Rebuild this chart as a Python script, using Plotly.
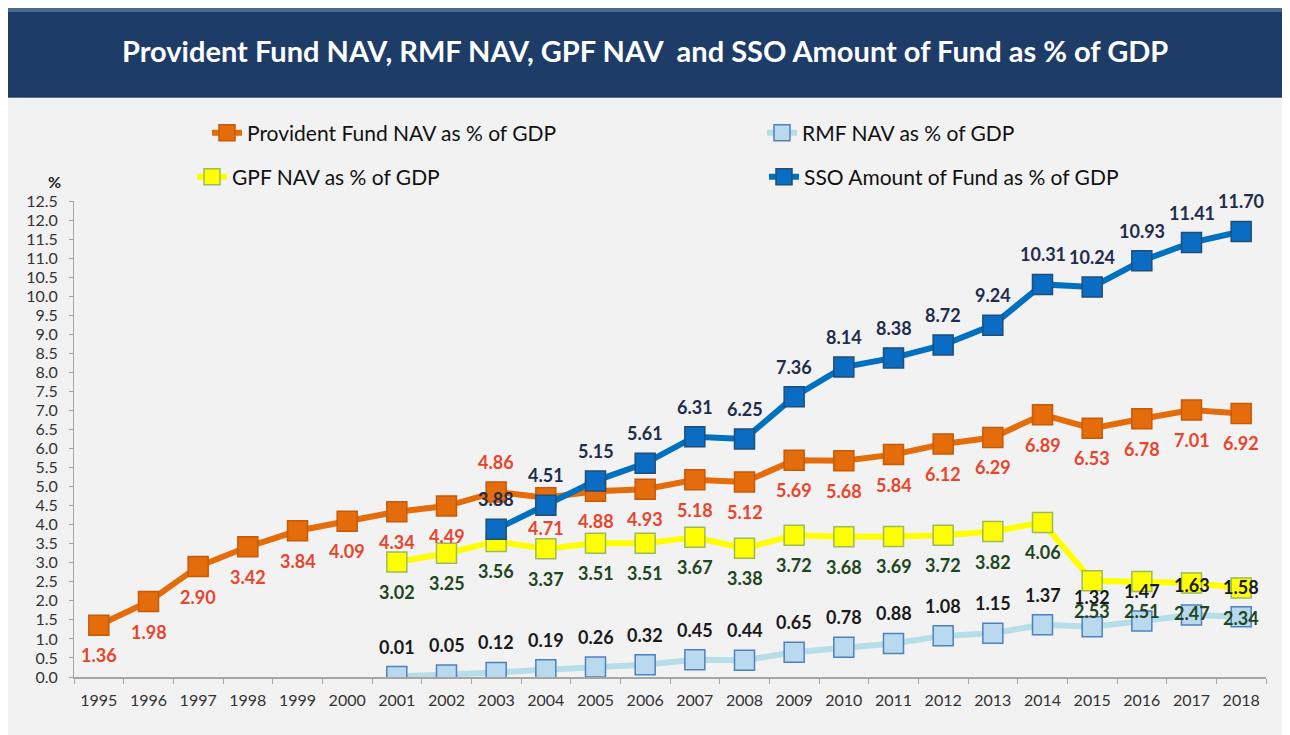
import plotly.graph_objects as go

years = [str(y) for y in range(1995, 2019)]

provident = [1.36, 1.98, 2.90, 3.42, 3.84, 4.09, 4.34, 4.49, 4.86, 4.71, 4.88, 4.93,
             5.18, 5.12, 5.69, 5.68, 5.84, 6.12, 6.29, 6.89, 6.53, 6.78, 7.01, 6.92]
rmf_years = years[6:]
rmf = [0.01, 0.05, 0.12, 0.19, 0.26, 0.32, 0.45, 0.44, 0.65, 0.78, 0.88, 1.08,
       1.15, 1.37, 1.32, 1.47, 1.63, 1.58]
gpf_years = years[6:]
gpf = [3.02, 3.25, 3.56, 3.37, 3.51, 3.51, 3.67, 3.38, 3.72, 3.68, 3.69, 3.72,
       3.82, 4.06, 2.53, 2.51, 2.47, 2.34]
sso_years = years[8:]
sso = [3.88, 4.51, 5.15, 5.61, 6.31, 6.25, 7.36, 8.14, 8.38, 8.72, 9.24, 10.31,
       10.24, 10.93, 11.41, 11.70]

# label side per point: 1 above, -1 below
provident_side = [-1] * 24
provident_side[8] = 1
rmf_side = [1] * 18
gpf_side = [-1] * 18
sso_side = [1] * 16

FONT = "Lato"
OFF = 8  # page body margin
W, H = 1290 - OFF, 735 - OFF
L, R, T, B = 74 - OFF, 24, 201 - OFF, 58
PW, PH = W - L - R, H - T - B


def px_x(p):
    return (p - OFF - L) / PW


def px_y(p):
    return (H - B - (p - OFF)) / PH


series = [
    dict(name="RMF NAV as % of GDP", x=rmf_years, y=rmf, side=rmf_side,
         line="#b7dee8", fill="#b9d9ee", edge="#4f81bd", txt="#1a1a1a",
         legend="legend2", lx=762, ly=133),
    dict(name="GPF NAV as % of GDP", x=gpf_years, y=gpf, side=gpf_side,
         line="#ffff00", fill="#ffff00", edge="#9bbb59", txt="#1e4620",
         legend="legend3", lx=192, ly=177),
    dict(name="Provident Fund NAV as % of GDP", x=years, y=provident,
         side=provident_side, line="#e46c0a", fill="#e46c0a", edge="#c55a0a",
         txt="#e8452c", legend="legend", lx=207, ly=133),
    dict(name="SSO Amount of Fund as % of GDP", x=sso_years, y=sso, side=sso_side,
         line="#0070c0", fill="#0a6cc2", edge="#1f4e79", txt="#1f2d4d",
         legend="legend4", lx=764, ly=177),
]

fig = go.Figure()
annotations = []
legends = {}
for s in series:
    fig.add_trace(go.Scatter(
        x=s["x"], y=s["y"], name=s["name"], mode="lines+markers",
        line=dict(color=s["line"], width=6),
        marker=dict(symbol="square", size=20, color=s["fill"],
                    line=dict(color=s["edge"], width=1.5)),
        legend=s["legend"], hoverinfo="x+y+name"))
    for xv, yv, sd in zip(s["x"], s["y"], s["side"]):
        annotations.append(dict(
            x=years.index(xv), y=yv, text=f"{yv:.2f}", showarrow=False,
            yshift=30 * sd,
            font=dict(family=FONT, size=18, color=s["txt"], weight="bold")))
    legends[s["legend"]] = dict(
        x=px_x(s["lx"]), y=px_y(s["ly"]), xanchor="left", yanchor="middle",
        bgcolor="rgba(0,0,0,0)", font=dict(family=FONT, size=21, color="#111111"),
        itemclick=False)

annotations.append(dict(
    x=px_x(645), y=px_y(50), xref="paper", yref="paper", showarrow=False,
    xanchor="center", yanchor="middle",
    text="<b>Provident Fund NAV, RMF NAV, GPF NAV  and SSO Amount of Fund as % of GDP</b>",
    font=dict(family=FONT, size=29, color="white")))
annotations.append(dict(
    x=px_x(54), y=px_y(182), xref="paper", yref="paper", showarrow=False,
    xanchor="center", yanchor="middle",
    text="<b>%</b>", font=dict(family=FONT, size=16, color="#222222")))

shapes = [
    dict(type="rect", xref="paper", yref="paper", layer="below",
         x0=px_x(5), x1=px_x(1283), y0=px_y(745), y1=px_y(97),
         fillcolor="#f2f2f2", line=dict(color="#a6a6a6", width=1.5)),
    dict(type="rect", xref="paper", yref="paper", layer="below",
         x0=px_x(3), x1=px_x(1287), y0=px_y(97), y1=px_y(3),
         fillcolor="#1d3c68", line=dict(color="#16325a", width=1)),
    dict(type="rect", xref="paper", yref="paper", layer="below",
         x0=px_x(3), x1=px_x(1287), y0=px_y(12), y1=px_y(3),
         fillcolor="#4a6a96", line=dict(width=0)),
]

fig.update_layout(
    width=W, height=H, margin=dict(l=L, r=R, t=T, b=B),
    paper_bgcolor="#f7f7f7", plot_bgcolor="white",
    showlegend=True, annotations=annotations, shapes=shapes,
    font=dict(family=FONT, color="#404040"),
    **legends,
)
fig.update_xaxes(type="category", categoryorder="array", categoryarray=years,
                 range=[-0.5, len(years) - 0.5],
                 tickson="boundaries", ticks="outside", ticklen=5,
                 tickcolor="#a6a6a6", showline=True, linecolor="#a6a6a6",
                 linewidth=1.5, showgrid=False, ticklabelstandoff=8,
                 tickfont=dict(size=16, color="#333333"))
fig.update_yaxes(range=[0, 12.5], dtick=0.5, tickformat=".1f", ticks="outside",
                 ticklen=4, tickcolor="#a6a6a6", showline=True, linecolor="#a6a6a6",
                 showgrid=False, zeroline=False, ticklabelstandoff=8,
                 tickfont=dict(size=16, color="#333333"))

fig.write_html("out.html")
